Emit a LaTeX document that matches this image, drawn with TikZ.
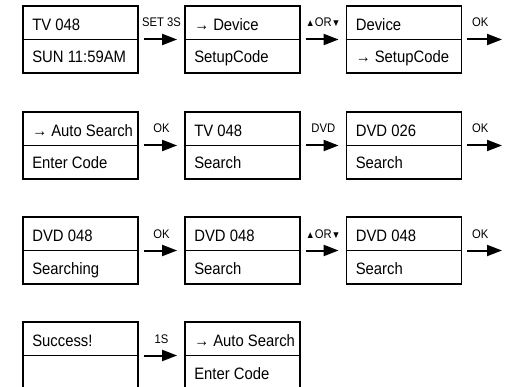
\documentclass[tikz,border=0pt]{standalone}
\usepackage{fontspec}
\setmainfont{Liberation Sans}[FakeStretch=0.9]
\usetikzlibrary{arrows.meta}
\newcommand{\boxfont}{\fontsize{16.5}{18}\selectfont}
\newcommand{\lblfont}{\fontsize{12.5}{14}\selectfont}
\newcommand{\tri}[1]{{\fontsize{10}{11}\selectfont #1}}
\begin{document}
\begin{tikzpicture}[x=1pt,y=-1pt,
  lcdbox/.style={draw, line width=1.8pt, minimum width=115pt, minimum height=67pt, inner sep=0pt},
  toptext/.style={anchor=base west, inner sep=0pt, font=\boxfont},
  arr/.style={line width=2pt, -{Triangle[length=15pt,width=11pt]}, shorten <=5pt, shorten >=7pt},
  endarr/.style={line width=2pt, -{Triangle[length=15pt,width=11pt]}, shorten <=5pt},
  lbl/.style={anchor=base, inner sep=0pt, yshift=12.5pt, font=\lblfont}]
\useasboundingbox (0,0) rectangle (516,387);
% boxes
\foreach \r/\ty in {1/6,2/112,3/217,4/322}{
  \foreach \c/\cx in {1/80.5,2/242.5,3/404}{
    \coordinate (p\r\c) at (\cx,\ty+33.5);
  }
}
\newcommand{\lcd}[4]{%
  \node[lcdbox] (#1) at (#2) {};
  \draw[line width=1.8pt] (#1.west) -- (#1.east);
  \node[toptext] (#1t) at ([shift={(10pt,8.8pt)}]#1.west) {#3};
  \node[toptext] (#1b) at ([shift={(10pt,-23.5pt)}]#1.west) {#4};
}
\lcd{a1}{p11}{TV 048}{SUN 11:59AM}
\lcd{a2}{p12}{→ Device}{SetupCode}
\lcd{a3}{p13}{Device}{→ SetupCode}
\lcd{b1}{p21}{→ Auto Search}{Enter Code}
\lcd{b2}{p22}{TV 048}{Search}
\lcd{b3}{p23}{DVD 026}{Search}
\lcd{c1}{p31}{DVD 048}{Searching}
\lcd{c2}{p32}{DVD 048}{Search}
\lcd{c3}{p33}{DVD 048}{Search}
\lcd{d1}{p41}{Success!}{}
\lcd{d2}{p42}{→ Auto Search}{Enter Code}
% free ends
\coordinate (ea) at (502,39.5);
\coordinate (eb) at (502,145.5);
\coordinate (ec) at (502,250.5);
% arrows
\draw[arr] (a1) -- node[lbl]{SET 3S} (a2);
\draw[arr] (a2) -- node[lbl]{\tri{▲}OR\tri{▼}} (a3);
\draw[endarr] (a3.east) -- node[lbl,xshift=-2pt]{OK} (ea);
\draw[arr] (b1) -- node[lbl]{OK} (b2);
\draw[arr] (b2) -- node[lbl]{DVD} (b3);
\draw[endarr] (b3.east) -- node[lbl,xshift=-2pt]{OK} (eb);
\draw[arr] (c1) -- node[lbl]{OK} (c2);
\draw[arr] (c2) -- node[lbl]{\tri{▲}OR\tri{▼}} (c3);
\draw[endarr] (c3.east) -- node[lbl,xshift=-2pt]{OK} (ec);
\draw[arr] (d1) -- node[lbl]{1S} (d2);
\end{tikzpicture}
\end{document}
